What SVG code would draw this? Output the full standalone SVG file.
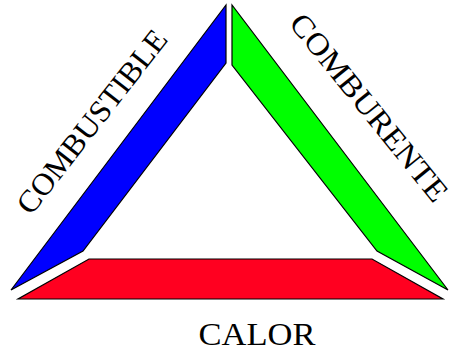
<svg xmlns="http://www.w3.org/2000/svg" width="454" height="352" viewBox="0 0 454 352">
  <style>
    .bar { stroke: #000; stroke-width: 1.2; stroke-linejoin: miter; }
    .lbl { font-family: "Liberation Serif", "Times New Roman", serif; font-size: 31px; fill: #000; text-anchor: middle; }
  </style>
  <rect width="454" height="352" fill="#fff"/>
  <g id="combustible">
    <polygon class="bar" fill="#0000ff" points="226,5 226,63 83,251 11,290"/>
    <text class="lbl" transform="translate(100,128) rotate(-52)" x="0" y="0" textLength="224" lengthAdjust="spacingAndGlyphs">COMBUSTIBLE</text>
  </g>
  <g id="comburente">
    <polygon class="bar" fill="#00ff00" points="232,5 232,65 377,251 448,290"/>
    <text class="lbl" transform="translate(361,114) rotate(51)" x="0" y="0" textLength="232" lengthAdjust="spacingAndGlyphs">COMBURENTE</text>
  </g>
  <g id="calor">
    <polygon class="bar" fill="#ff0020" points="89,259 372,259 443,299 18,299"/>
    <text class="lbl" x="257" y="345" font-size="30" textLength="117" lengthAdjust="spacingAndGlyphs">CALOR</text>
  </g>
</svg>
